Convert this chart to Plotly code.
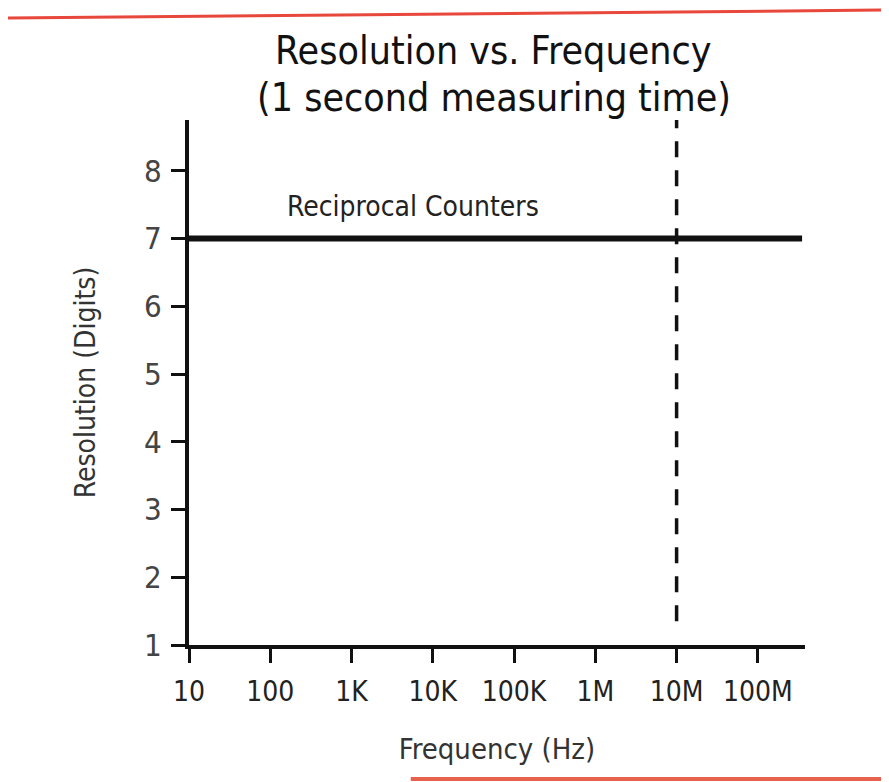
import numpy as np
import plotly.graph_objects as go

# data
freq_ticks = [10, 100, 1e3, 1e4, 1e5, 1e6, 1e7, 1e8]
freq_labels = ['10', '100', '1K', '10K', '100K', '1M', '10M', '100M']
digit_ticks = [1, 2, 3, 4, 5, 6, 7, 8]

reciprocal_x = [10, 3.5e8]
reciprocal_y = [7, 7]

limit_x = [1e7, 1e7]
limit_y = [1.35, 8.75]

FONT = 'Liberation Sans Narrow, DejaVu Sans Condensed, sans-serif'

# page body has an 8px margin, so the plot area starts at screen y=120
TOP = 120
PLOT_H = 782 - 112 - 145

fig = go.Figure()

fig.add_trace(go.Scatter(
    x=reciprocal_x, y=reciprocal_y, mode='lines',
    line=dict(color='#111', width=6), showlegend=False, hoverinfo='skip'))

fig.add_trace(go.Scatter(
    x=limit_x, y=limit_y, mode='lines',
    line=dict(color='#111', width=3.5, dash='16px,13px'), showlegend=False, hoverinfo='skip'))

fig.add_annotation(
    x=np.log10(150), y=7.47, xref='x', yref='y', text='Reciprocal Counters',
    showarrow=False, xanchor='left', yanchor='middle',
    font=dict(family=FONT, size=28, color='#222'))

# title, two lines
fig.add_annotation(
    x=0.495, y=(TOP - 50) / PLOT_H + 1, xref='paper', yref='paper',
    text='Resolution vs. Frequency', showarrow=False,
    xanchor='center', yanchor='middle',
    font=dict(family=FONT, size=39, color='#111'))
fig.add_annotation(
    x=0.495, y=(TOP - 97) / PLOT_H + 1, xref='paper', yref='paper',
    text='(1 second measuring time)', showarrow=False,
    xanchor='center', yanchor='middle',
    font=dict(family=FONT, size=39, color='#111'))

# red scan borders
fig.add_shape(type='line', xref='paper', yref='paper', x0=-0.31, x1=1.14,
              y0=1 + (TOP - 18) / PLOT_H, y1=1 + (TOP - 10) / PLOT_H,
              line=dict(color='#e8473c', width=3))
fig.add_shape(type='line', xref='paper', yref='paper', x0=0.36, x1=1.14,
              y0=-(779 - 645) / PLOT_H, y1=-(779 - 645) / PLOT_H,
              line=dict(color='#e8614f', width=4))

fig.update_layout(
    width=889, height=782,
    paper_bgcolor='white', plot_bgcolor='white',
    margin=dict(l=181, r=92, t=112, b=145),
    font=dict(family=FONT, color='#222'),
    xaxis=dict(
        type='log', range=[1, 8.58], automargin=False,
        tickvals=freq_ticks, ticktext=freq_labels,
        showline=True, linecolor='#111', linewidth=4,
        ticks='outside', ticklen=14, tickwidth=3, tickcolor='#111',
        ticklabelstandoff=4,
        tickfont=dict(family=FONT, size=28, color='#222'),
        showgrid=False, zeroline=False,
        title=dict(text='Frequency (Hz)', standoff=33,
                   font=dict(family=FONT, size=29, color='#333'))),
    yaxis=dict(
        range=[1, 8.75], automargin=False,
        tickvals=digit_ticks,
        showline=True, linecolor='#111', linewidth=4,
        ticks='outside', ticklen=14, tickwidth=3, tickcolor='#111',
        ticklabelstandoff=3,
        tickfont=dict(family=FONT, size=31, color='#444'),
        showgrid=False, zeroline=False,
        title=dict(text='Resolution (Digits)', standoff=41,
                   font=dict(family=FONT, size=28, color='#333'))),
)

fig.write_html('out.html')
